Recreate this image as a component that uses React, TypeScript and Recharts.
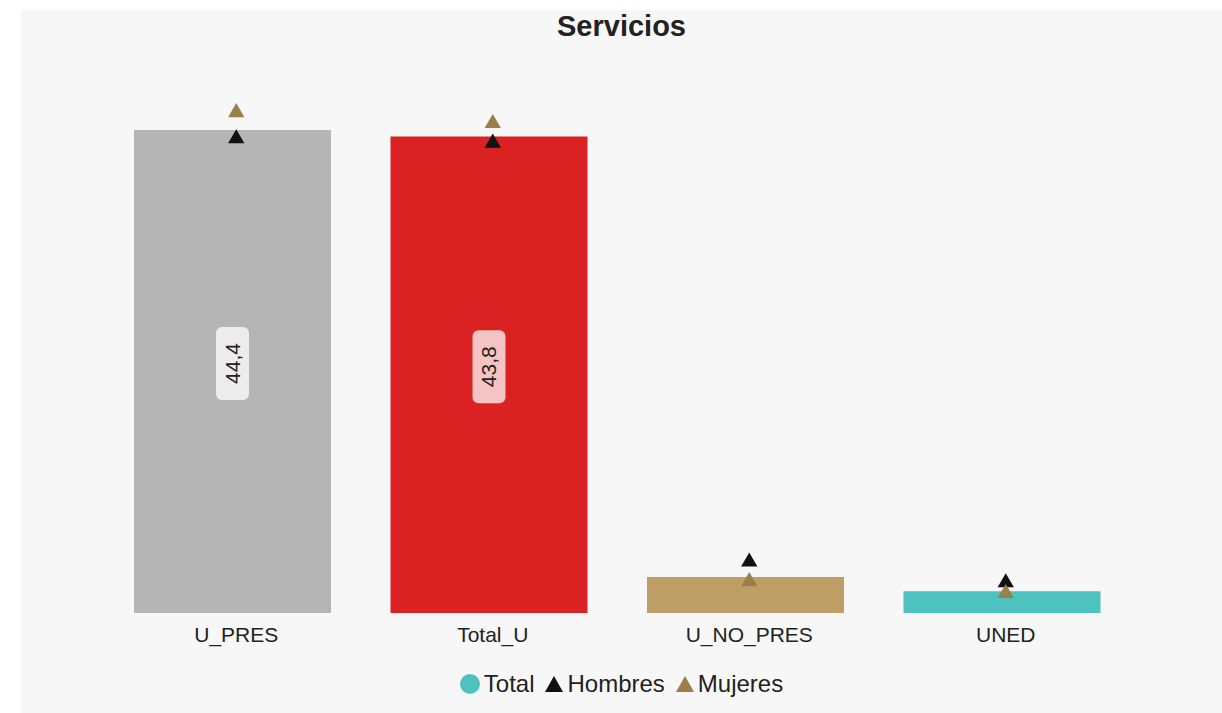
import { Bar, Cell, ComposedChart, Legend, Rectangle, Scatter, XAxis, YAxis, ZAxis } from 'recharts';

const categories = ['U_PRES', 'Total_U', 'U_NO_PRES', 'UNED'];
const totalValues = [44.4, 43.8, 3.3, 2.0];
const hombresValues = [43.6, 43.2, 4.7, 2.8];
const mujeresValues = [46.0, 45.0, 2.9, 1.8];
const barColors = ['#b5b5b5', '#db2222', '#bf9e66', '#4dc2be'];
const labelFills = ['#ececec', '#f4c3c3', '#ead9bd', '#c8ecea'];

const data = categories.map((name, i) => ({
  name,
  total: totalValues[i],
  hombres: hombresValues[i],
  mujeres: mujeresValues[i],
}));

const FONT = '"Liberation Sans", Arial, sans-serif';
const BAR_SHIFT = -4;

function ValueLabel(props: any) {
  const { x, y, width, height, value, index } = props;
  // only the tall bars carry a label
  if (height < 100) return null;
  const cx = x + BAR_SHIFT + width / 2;
  const cy = y + height / 2 - 8;
  const boxW = 33;
  const boxH = 73;
  return (
    <g>
      <rect
        x={cx - boxW / 2}
        y={cy - boxH / 2}
        width={boxW}
        height={boxH}
        rx={6}
        fill={labelFills[index] ?? '#fff'}
      />
      <text
        x={cx}
        y={cy}
        transform={`rotate(-90 ${cx} ${cy})`}
        textAnchor="middle"
        dominantBaseline="central"
        fontSize={21}
        fontFamily={FONT}
        fill="#222"
      >
        {String(value).replace('.', ',')}
      </text>
    </g>
  );
}

function ShiftedBar(props: any) {
  return <Rectangle {...props} x={props.x + BAR_SHIFT} />;
}

function Triangle({ color }: { color: string }) {
  return (
    <svg width={20} height={18} style={{ verticalAlign: 'middle' }}>
      <polygon points="10,1 19,17 1,17" fill={color} />
    </svg>
  );
}

function LegendContent() {
  const item = { display: 'inline-flex', alignItems: 'center', gap: 3, marginRight: 10 } as const;
  return (
    <div
      style={{
        display: 'flex',
        justifyContent: 'center',
        fontFamily: FONT,
        fontSize: 24,
        color: '#222',
      }}
    >
      <span style={item}>
        <svg width={22} height={22} style={{ verticalAlign: 'middle' }}>
          <circle cx={11} cy={11} r={10} fill="#4dc2be" />
        </svg>
        Total
      </span>
      <span style={item}>
        <Triangle color="#111111" />
        Hombres
      </span>
      <span style={{ ...item, marginRight: 0 }}>
        <Triangle color="#9c7e4a" />
        Mujeres
      </span>
    </div>
  );
}

export default function App() {
  return (
    <div
      style={{
        position: 'absolute',
        left: 21,
        top: 10,
        width: 1201,
        height: 703,
        background: '#f7f7f7',
      }}
    >
      <div
        style={{
          position: 'absolute',
          top: 0,
          left: 0,
          width: '100%',
          textAlign: 'center',
          fontFamily: FONT,
          fontWeight: 'bold',
          fontSize: 29,
          color: '#222',
          lineHeight: '32px',
        }}
      >
        Servicios
      </div>
      <ComposedChart
        width={1201}
        height={703}
        data={data}
        margin={{ top: 59, right: 88, left: 87, bottom: 32 }}
      >
        <XAxis
          dataKey="name"
          axisLine={false}
          tickLine={false}
          tick={{ fontSize: 21, fill: '#222', fontFamily: FONT, dy: 6 }}
          height={40}
          interval={0}
        />
        <YAxis hide domain={[0, 50]} />
        <ZAxis range={[115, 115]} />
        <Bar
          dataKey="total"
          name="Total"
          barSize={197}
          isAnimationActive={false}
          shape={<ShiftedBar />}
          label={<ValueLabel />}
        >
          {data.map((entry, i) => (
            <Cell key={entry.name} fill={barColors[i]} />
          ))}
        </Bar>
        <Scatter
          dataKey="hombres"
          name="Hombres"
          fill="#111111"
          shape="triangle"
          legendType="triangle"
          isAnimationActive={false}
        />
        <Scatter
          dataKey="mujeres"
          name="Mujeres"
          fill="#9c7e4a"
          shape="triangle"
          legendType="triangle"
          isAnimationActive={false}
        />
        <Legend verticalAlign="bottom" wrapperStyle={{ bottom: 15 }} content={<LegendContent />} />
      </ComposedChart>
    </div>
  );
}
